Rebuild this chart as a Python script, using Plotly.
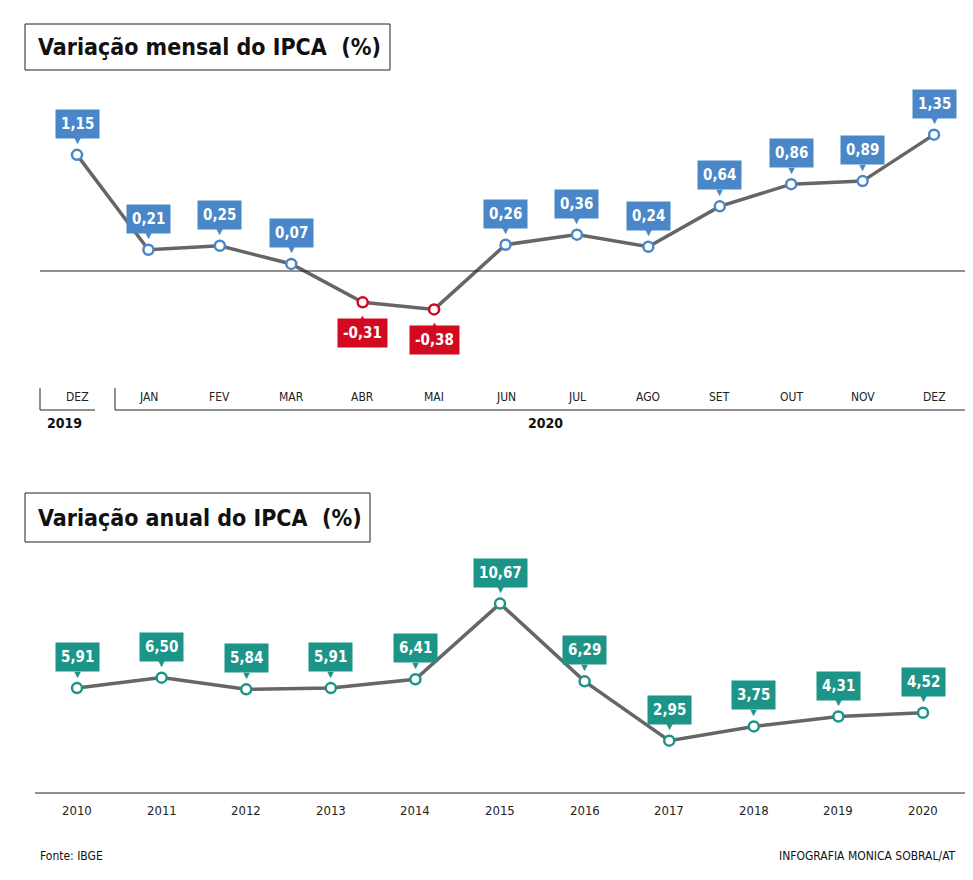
import plotly.graph_objects as go

months = ["DEZ","JAN","FEV","MAR","ABR","MAI","JUN","JUL","AGO","SET","OUT","NOV","DEZ"]
monthly = [1.15,0.21,0.25,0.07,-0.31,-0.38,0.26,0.36,0.24,0.64,0.86,0.89,1.35]
years = [2010,2011,2012,2013,2014,2015,2016,2017,2018,2019,2020]
annual = [5.91,6.50,5.84,5.91,6.41,10.67,6.29,2.95,3.75,4.31,4.52]

OFF = 8
W, H = 973 - OFF, 880 - OFF
BLUE, RED, TEAL, GREY = "#4a87c8", "#d3091f", "#1c9488", "#666666"
FONT = "DejaVu Sans Condensed"
def py(p): return 1 - (p - OFF) / H
def pxf(p): return (p - OFF) / W
def fmt(v): return f"{v:.2f}".replace(".", ",")

fig = go.Figure()
mx = list(range(len(months)))
mcol = [RED if v < 0 else BLUE for v in monthly]
fig.add_trace(go.Scatter(x=mx, y=monthly, mode="lines+markers", line=dict(color=GREY, width=3.5),
    marker=dict(size=10, color="white", line=dict(color=mcol, width=2.5)), xaxis="x", yaxis="y", hoverinfo="skip"))
fig.add_trace(go.Scatter(x=years, y=annual, mode="lines+markers", line=dict(color=GREY, width=3.5),
    marker=dict(size=10, color="white", line=dict(color=TEAL, width=2.5)), xaxis="x2", yaxis="y2", hoverinfo="skip"))

ann = []
def label(x, y, v, col, xr, yr):
    up = v >= 0
    s = 1 if up else -1
    ann.append(dict(x=x, y=y, xref=xr, yref=yr, text=f"<b>{fmt(v)}</b>", showarrow=False, yshift=s*31,
        bgcolor=col, borderpad=5, font=dict(color="white", size=15, family=FONT)))
    ann.append(dict(x=x, y=y, xref=xr, yref=yr, text="▼" if up else "▲", showarrow=False, yshift=s*15,
        font=dict(color=col, size=11)))
for i, v in enumerate(monthly):
    label(i, v, v, mcol[i], "x", "y")
for yv, v in zip(years, annual):
    label(yv, v, v, TEAL, "x2", "y2")

for i, m in enumerate(months):
    ann.append(dict(x=i, y=py(397), xref="x", yref="paper", yanchor="middle", text=m, showarrow=False, font=dict(size=12, family=FONT, color="#222")))
for yv in years:
    ann.append(dict(x=yv, y=py(810), xref="x2", yref="paper", yanchor="middle", text=str(yv), showarrow=False, font=dict(size=13, family=FONT, color="#222")))

def txt(x, y, t, size, xa="left", bold=False):
    ann.append(dict(x=pxf(x), y=py(y), xref="paper", yref="paper", text=f"<b>{t}</b>" if bold else t, showarrow=False,
        xanchor=xa, yanchor="middle", font=dict(size=size, family=FONT, color="#111")))
txt(36, 47, "Variação mensal do IPCA  (%)", 23, bold=True)
txt(36, 518, "Variação anual do IPCA  (%)", 23, bold=True)
txt(64, 423, "2019", 14, "center", True)
txt(545, 423, "2020", 14, "center", True)
txt(38, 856, "Fonte: IBGE", 12)
txt(958, 856, "INFOGRAFIA MONICA SOBRAL/AT", 12, "right")

shapes = []
def line(x0, y0, x1, y1, w=1):
    shapes.append(dict(type="line", xref="paper", yref="paper", x0=pxf(x0), x1=pxf(x1), y0=py(y0), y1=py(y1), line=dict(color="#222", width=w)))
def rect(x0, y0, x1, y1):
    shapes.append(dict(type="rect", xref="paper", yref="paper", x0=pxf(x0), x1=pxf(x1), y0=py(y0), y1=py(y1), line=dict(color="#222", width=1)))
rect(25, 24, 390, 70)
rect(25, 493, 370, 542)
line(40, 271, 973, 271)
line(40, 410, 95, 410); line(40, 388, 40, 410)
line(115, 410, 973, 410); line(115, 388, 115, 410)
line(35, 793, 965, 793)

fig.update_layout(width=W, height=H, margin=dict(l=0, r=0, t=0, b=0), paper_bgcolor="white", plot_bgcolor="white",
    showlegend=False, annotations=ann, shapes=shapes,
    xaxis=dict(domain=[0, 1], range=[-(77-OFF)/71.42, (973-77)/71.42], visible=False),
    yaxis=dict(domain=[py(380), py(80)], range=[-109/101, 191/101], visible=False),
    xaxis2=dict(domain=[0, 1], range=[2010-(77-OFF)/84.6, 2010+(973-77)/84.6], visible=False, anchor="y2"),
    yaxis2=dict(domain=[py(793), py(540)], range=[0, 253/17.75], visible=False, anchor="x2"))
fig.write_html("out.html")
